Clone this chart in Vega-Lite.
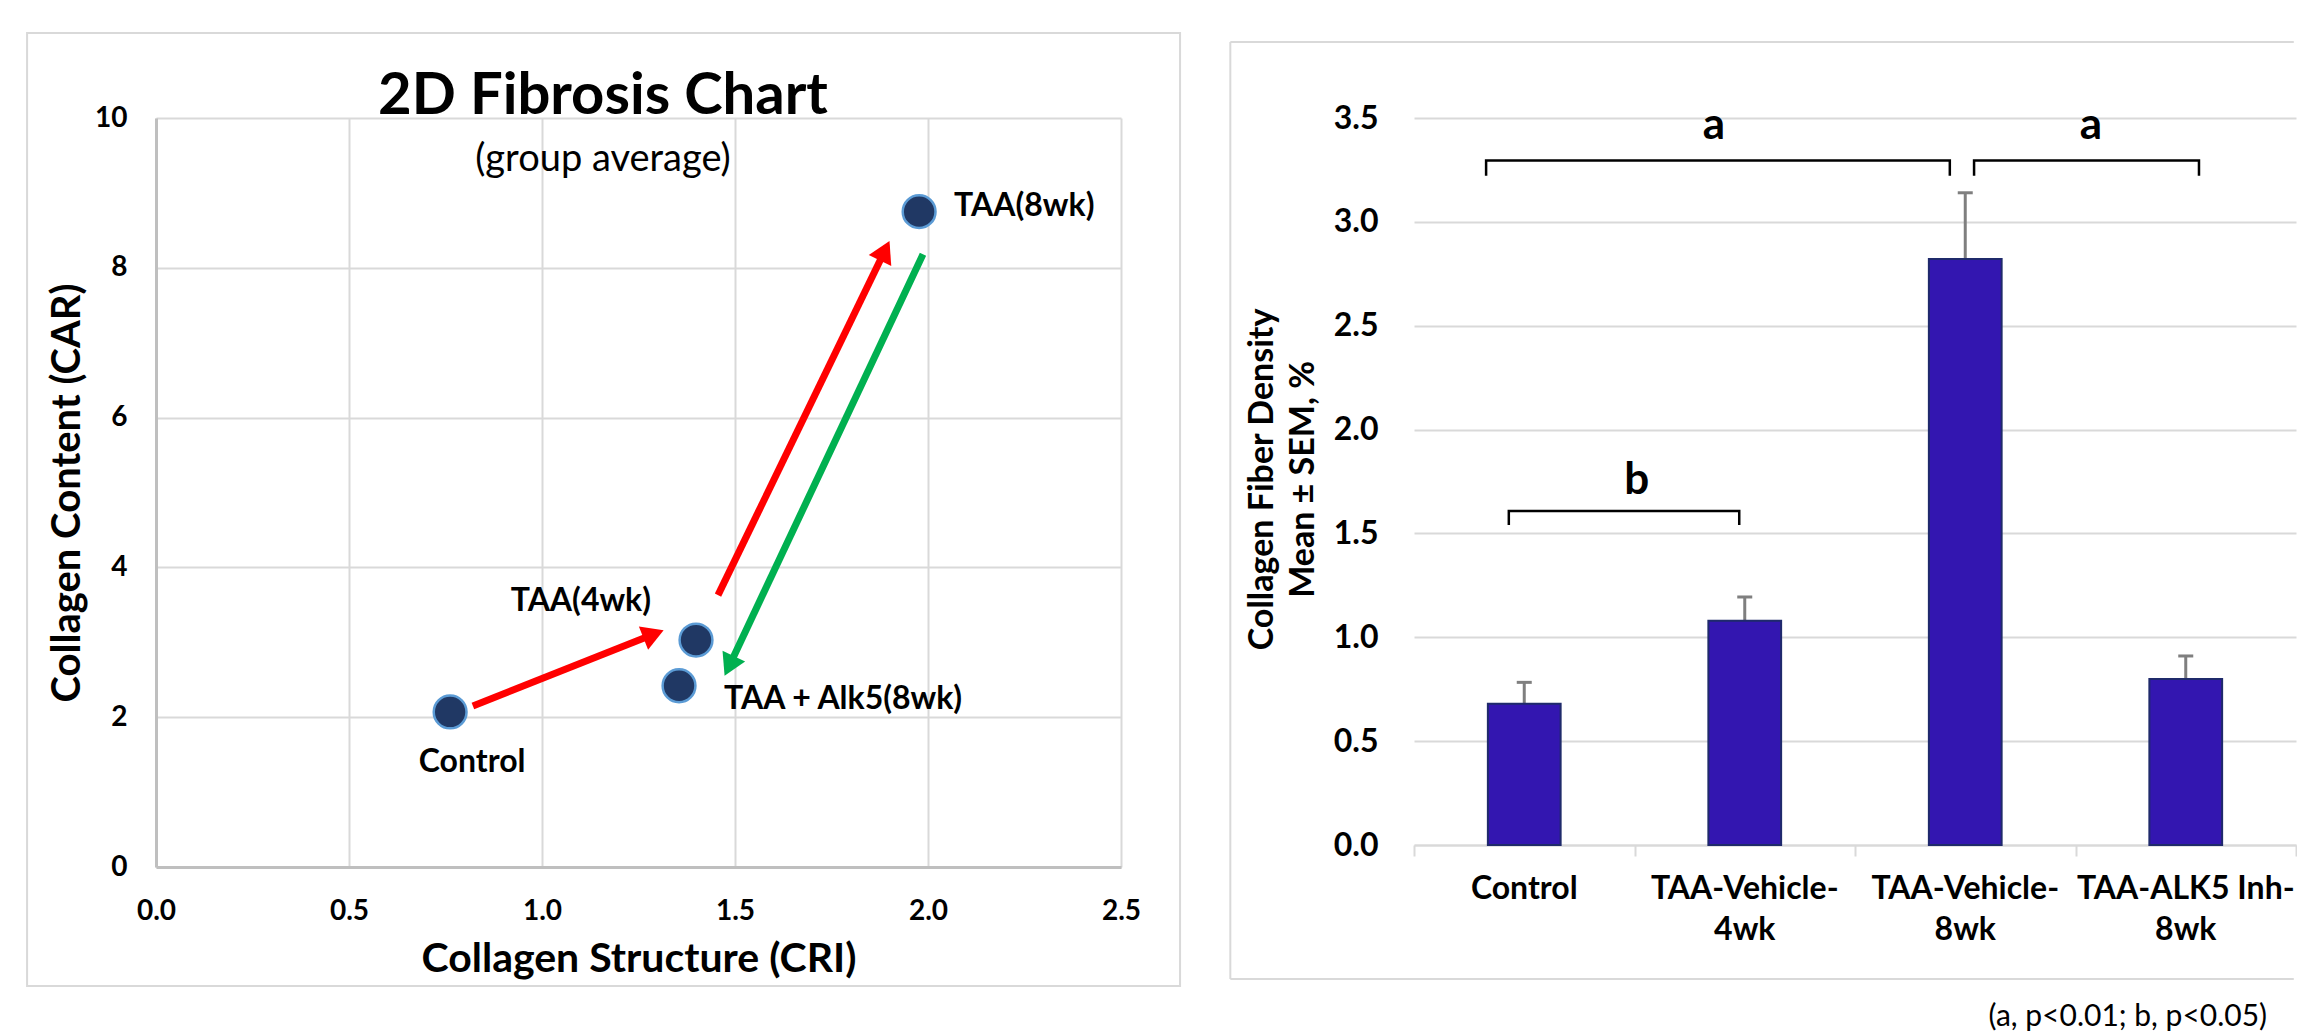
{
  "$schema": "https://vega.github.io/schema/vega-lite/v6.json",
  "background": "white",
  "padding": {"left": 26, "top": 31, "right": 0, "bottom": 0},
  "config": {"font": "Lato", "view": {"stroke": null}},
  "spacing": 47,
  "hconcat": [
    {
      "width": 965,
      "height": 749,
      "data": {"values": [
        {"group": "Control", "cri": 0.762, "car": 2.07},
        {"group": "TAA(4wk)", "cri": 1.399, "car": 3.03},
        {"group": "TAA + Alk5(8wk)", "cri": 1.355, "car": 2.42},
        {"group": "TAA(8wk)", "cri": 1.977, "car": 8.75}
      ]},
      "layer": [
        {
          "mark": {"type": "point", "filled": true, "shape": "circle", "size": 1075, "fill": "#203864", "stroke": "#5B9BD5", "strokeWidth": 2.5, "opacity": 1},
          "encoding": {
            "x": {"field": "cri", "type": "quantitative",
              "scale": {"domain": [0, 2.5], "nice": false, "zero": false},
              "axis": {"title": "Collagen Structure (CRI)", "values": [0, 0.5, 1, 1.5, 2, 2.5], "format": ".1f",
                "grid": true, "gridColor": "#D9D9D9", "gridWidth": 2,
                "domainColor": "#BFBFBF", "domainWidth": 3, "ticks": false,
                "labelFontSize": 28, "labelFontWeight": "bold", "labelColor": "#000000", "labelPadding": 30, "labelFlush": false,
                "titleFontSize": 41, "titleFontWeight": "bold", "titleColor": "#000000", "titlePadding": 14}},
            "y": {"field": "car", "type": "quantitative",
              "scale": {"domain": [0, 10], "nice": false, "zero": false},
              "axis": {"title": "Collagen Content (CAR)", "values": [0, 2, 4, 6, 8, 10], "format": "d",
                "grid": true, "gridColor": "#D9D9D9", "gridWidth": 2,
                "domainColor": "#BFBFBF", "domainWidth": 3, "ticks": false,
                "labelFontSize": 28, "labelFontWeight": "bold", "labelColor": "#000000", "labelPadding": 29, "labelFlush": false,
                "titleFontSize": 40, "titleFontWeight": "bold", "titleColor": "#000000", "titlePadding": 7}}
          }
        },
        {
          "data": {"values": [{}]},
          "mark": {"type": "rect", "filled": false, "stroke": "#D9D9D9", "strokeWidth": 2},
          "encoding": {
            "x": {"datum": -0.334, "type": "quantitative"},
            "x2": {"datum": 2.653},
            "y": {"datum": -1.589, "type": "quantitative"},
            "y2": {"datum": 11.135}
          }
        },
        {
          "data": {"values": [
            {"id": "r1", "x0": 0.821, "y0": 2.15, "xh": 1.289, "yh": 3.109},
            {"id": "r2", "x0": 1.456, "y0": 3.63, "xh": 1.888, "yh": 8.227},
            {"id": "g", "x0": 1.987, "y0": 8.18, "xh": 1.485, "yh": 2.684}
          ]},
          "mark": {"type": "rule", "strokeWidth": 7},
          "encoding": {
            "x": {"field": "x0", "type": "quantitative"},
            "y": {"field": "y0", "type": "quantitative"},
            "x2": {"field": "xh"},
            "y2": {"field": "yh"},
            "color": {"field": "id", "type": "nominal", "legend": null,
              "scale": {"domain": ["r1", "r2", "g"], "range": ["#FF0000", "#FF0000", "#00B050"]}}
          }
        },
        {
          "data": {"values": [{"id": "r1", "xh": 1.289, "yh": 3.109}]},
          "mark": {"type": "point", "filled": true, "shape": "triangle-up", "size": 625, "angle": 68.4, "fill": "#FF0000", "strokeWidth": 0, "opacity": 1},
          "encoding": {
            "x": {"field": "xh", "type": "quantitative"},
            "y": {"field": "yh", "type": "quantitative"}
          }
        },
        {
          "data": {"values": [{"id": "r2", "xh": 1.888, "yh": 8.227}]},
          "mark": {"type": "point", "filled": true, "shape": "triangle-up", "size": 625, "angle": 26, "fill": "#FF0000", "strokeWidth": 0, "opacity": 1},
          "encoding": {
            "x": {"field": "xh", "type": "quantitative"},
            "y": {"field": "yh", "type": "quantitative"}
          }
        },
        {
          "data": {"values": [{"id": "g", "xh": 1.485, "yh": 2.684}]},
          "mark": {"type": "point", "filled": true, "shape": "triangle-up", "size": 625, "angle": 205.3, "fill": "#00B050", "strokeWidth": 0, "opacity": 1},
          "encoding": {
            "x": {"field": "xh", "type": "quantitative"},
            "y": {"field": "yh", "type": "quantitative"}
          }
        },
        {
          "transform": [{"filter": "datum.group === 'TAA(8wk)'"}],
          "mark": {"type": "text", "align": "left", "baseline": "middle", "dx": 35, "dy": -6, "fontSize": 32, "fontWeight": "bold", "color": "#000000"},
          "encoding": {
            "x": {"field": "cri", "type": "quantitative"},
            "y": {"field": "car", "type": "quantitative"},
            "text": {"field": "group"}
          }
        },
        {
          "transform": [{"filter": "datum.group === 'TAA(4wk)'"}],
          "mark": {"type": "text", "align": "right", "baseline": "middle", "dx": -45, "dy": -39, "fontSize": 32, "fontWeight": "bold", "color": "#000000"},
          "encoding": {
            "x": {"field": "cri", "type": "quantitative"},
            "y": {"field": "car", "type": "quantitative"},
            "text": {"field": "group"}
          }
        },
        {
          "transform": [{"filter": "datum.group === 'TAA + Alk5(8wk)'"}],
          "mark": {"type": "text", "align": "left", "baseline": "middle", "dx": 45, "dy": 13, "fontSize": 32, "fontWeight": "bold", "color": "#000000"},
          "encoding": {
            "x": {"field": "cri", "type": "quantitative"},
            "y": {"field": "car", "type": "quantitative"},
            "text": {"field": "group"}
          }
        },
        {
          "transform": [{"filter": "datum.group === 'Control'"}],
          "mark": {"type": "text", "align": "center", "baseline": "middle", "dx": 22, "dy": 50, "fontSize": 32, "fontWeight": "bold", "color": "#000000"},
          "encoding": {
            "x": {"field": "cri", "type": "quantitative"},
            "y": {"field": "car", "type": "quantitative"},
            "text": {"field": "group"}
          }
        },
        {
          "data": {"values": [{}]},
          "mark": {"type": "text", "text": "2D Fibrosis Chart", "align": "center", "baseline": "alphabetic", "fontSize": 58, "fontWeight": "bold", "color": "#000000"},
          "encoding": {
            "x": {"datum": 1.158, "type": "quantitative"},
            "y": {"datum": 10.053, "type": "quantitative"}
          }
        },
        {
          "data": {"values": [{}]},
          "mark": {"type": "text", "text": "(group average)", "align": "center", "baseline": "alphabetic", "fontSize": 38, "color": "#000000"},
          "encoding": {
            "x": {"datum": 1.158, "type": "quantitative"},
            "y": {"datum": 9.292, "type": "quantitative"}
          }
        }
      ]
    },
    {
      "width": 882,
      "height": 727,
      "resolve": {"scale": {"x": "independent"}},
      "layer": [
        {
          "data": {"values": [
            {"group": "Control", "line1": "Control", "line2": "", "mean": 0.68, "upper": 0.783},
            {"group": "TAA-Vehicle-4wk", "line1": "TAA-Vehicle-", "line2": "4wk", "mean": 1.08, "upper": 1.194},
            {"group": "TAA-Vehicle-8wk", "line1": "TAA-Vehicle-", "line2": "8wk", "mean": 2.821, "upper": 3.14},
            {"group": "TAA-ALK5 Inh-8wk", "line1": "TAA-ALK5 Inh-", "line2": "8wk", "mean": 0.799, "upper": 0.91}
          ]},
          "encoding": {
            "x": {"field": "group", "type": "nominal", "sort": null,
              "scale": {"paddingInner": 0, "paddingOuter": 0},
              "axis": {"title": null, "labels": false, "domain": true, "domainColor": "#D9D9D9", "domainWidth": 2,
                "ticks": true, "tickBand": "extent", "tickColor": "#D9D9D9", "tickWidth": 2, "tickSize": 11,
                "grid": false}}
          },
          "layer": [
            {
              "mark": {"type": "rule", "color": "#7F7F7F", "strokeWidth": 3},
              "encoding": {
                "y": {"field": "mean", "type": "quantitative", "title": null,
                  "scale": {"domain": [0, 3.5], "nice": false},
                  "axis": {"title": null, "values": [0, 0.5, 1, 1.5, 2, 2.5, 3, 3.5], "format": ".1f",
                    "domain": false, "ticks": false, "grid": true, "gridColor": "#D9D9D9", "gridWidth": 2,
                    "labelFontSize": 32, "labelFontWeight": "bold", "labelColor": "#000000", "labelPadding": 36}},
                "y2": {"field": "upper"}
              }
            },
            {
              "mark": {"type": "point", "shape": "stroke", "filled": false, "color": "#7F7F7F", "strokeWidth": 3, "size": 225, "opacity": 1},
              "encoding": {
                "y": {"field": "upper", "type": "quantitative", "title": null}
              }
            },
            {
              "mark": {"type": "bar", "fill": "#3316B0", "stroke": "#1F2A6B", "strokeWidth": 2, "width": {"band": 0.33}},
              "encoding": {
                "y": {"field": "mean", "type": "quantitative", "title": null}
              }
            },
            {
              "mark": {"type": "text", "align": "center", "baseline": "alphabetic", "fontSize": 32, "fontWeight": "bold", "color": "#000000"},
              "encoding": {
                "y": {"datum": -0.26, "type": "quantitative", "title": null},
                "text": {"field": "line1"}
              }
            },
            {
              "mark": {"type": "text", "align": "center", "baseline": "alphabetic", "fontSize": 32, "fontWeight": "bold", "color": "#000000"},
              "encoding": {
                "y": {"datum": -0.457, "type": "quantitative", "title": null},
                "text": {"field": "line2"}
              }
            }
          ]
        },
        {
          "layer": [
            {
              "data": {"values": [{}]},
              "mark": {"type": "rule", "color": "#D9D9D9", "strokeWidth": 2},
              "encoding": {
                "x": {"datum": -0.833, "type": "quantitative", "scale": {"domain": [0, 4], "nice": false, "zero": false}, "axis": null},
                "x2": {"datum": 3.99},
                "y": {"datum": 3.866, "type": "quantitative", "title": null}
              }
            },
            {
              "data": {"values": [{}]},
              "mark": {"type": "rule", "color": "#D9D9D9", "strokeWidth": 2},
              "encoding": {
                "x": {"datum": -0.833, "type": "quantitative", "axis": null},
                "x2": {"datum": 3.99},
                "y": {"datum": -0.645, "type": "quantitative", "title": null}
              }
            },
            {
              "data": {"values": [{}]},
              "mark": {"type": "rule", "color": "#D9D9D9", "strokeWidth": 2},
              "encoding": {
                "x": {"datum": -0.833, "type": "quantitative", "axis": null},
                "y": {"datum": -0.645, "type": "quantitative", "title": null},
                "y2": {"datum": 3.866}
              }
            },
            {
              "data": {"values": [
                {"bracket": "a1", "step": 1, "bx": 0.327, "by": 3.222},
                {"bracket": "a1", "step": 2, "bx": 0.327, "by": 3.295},
                {"bracket": "a1", "step": 3, "bx": 2.43, "by": 3.295},
                {"bracket": "a1", "step": 4, "bx": 2.43, "by": 3.222},
                {"bracket": "a2", "step": 1, "bx": 2.54, "by": 3.222},
                {"bracket": "a2", "step": 2, "bx": 2.54, "by": 3.295},
                {"bracket": "a2", "step": 3, "bx": 3.56, "by": 3.295},
                {"bracket": "a2", "step": 4, "bx": 3.56, "by": 3.222},
                {"bracket": "b", "step": 1, "bx": 0.43, "by": 1.54},
                {"bracket": "b", "step": 2, "bx": 0.43, "by": 1.608},
                {"bracket": "b", "step": 3, "bx": 1.475, "by": 1.608},
                {"bracket": "b", "step": 4, "bx": 1.475, "by": 1.54}
              ]},
              "mark": {"type": "line", "color": "#000000", "strokeWidth": 2.5},
              "encoding": {
                "x": {"field": "bx", "type": "quantitative", "axis": null},
                "y": {"field": "by", "type": "quantitative", "title": null},
                "detail": {"field": "bracket", "type": "nominal"},
                "order": {"field": "step", "type": "quantitative"}
              }
            },
            {
              "data": {"values": [
                {"letter": "a", "lx": 1.36, "ly": 3.40},
                {"letter": "a", "lx": 3.07, "ly": 3.40},
                {"letter": "b", "lx": 1.01, "ly": 1.69}
              ]},
              "mark": {"type": "text", "align": "center", "baseline": "alphabetic", "fontSize": 44, "fontWeight": "bold", "color": "#000000"},
              "encoding": {
                "x": {"field": "lx", "type": "quantitative", "axis": null},
                "y": {"field": "ly", "type": "quantitative", "title": null},
                "text": {"field": "letter"}
              }
            },
            {
              "data": {"values": [{}]},
              "mark": {"type": "text", "text": "Collagen Fiber Density", "angle": 270, "align": "center", "baseline": "middle", "fontSize": 34, "fontWeight": "bold", "color": "#000000"},
              "encoding": {
                "x": {"datum": -0.685, "type": "quantitative", "axis": null},
                "y": {"datum": 1.76, "type": "quantitative", "title": null}
              }
            },
            {
              "data": {"values": [{}]},
              "mark": {"type": "text", "text": "Mean ± SEM, %", "angle": 270, "align": "center", "baseline": "middle", "fontSize": 34, "fontWeight": "bold", "color": "#000000"},
              "encoding": {
                "x": {"datum": -0.499, "type": "quantitative", "axis": null},
                "y": {"datum": 1.76, "type": "quantitative", "title": null}
              }
            },
            {
              "data": {"values": [{}]},
              "mark": {"type": "text", "text": "(a, p<0.01; b, p<0.05)", "align": "right", "baseline": "alphabetic", "fontSize": 30, "color": "#000000"},
              "encoding": {
                "x": {"datum": 3.869, "type": "quantitative", "axis": null},
                "y": {"datum": -0.871, "type": "quantitative", "title": null}
              }
            }
          ]
        }
      ]
    }
  ]
}
